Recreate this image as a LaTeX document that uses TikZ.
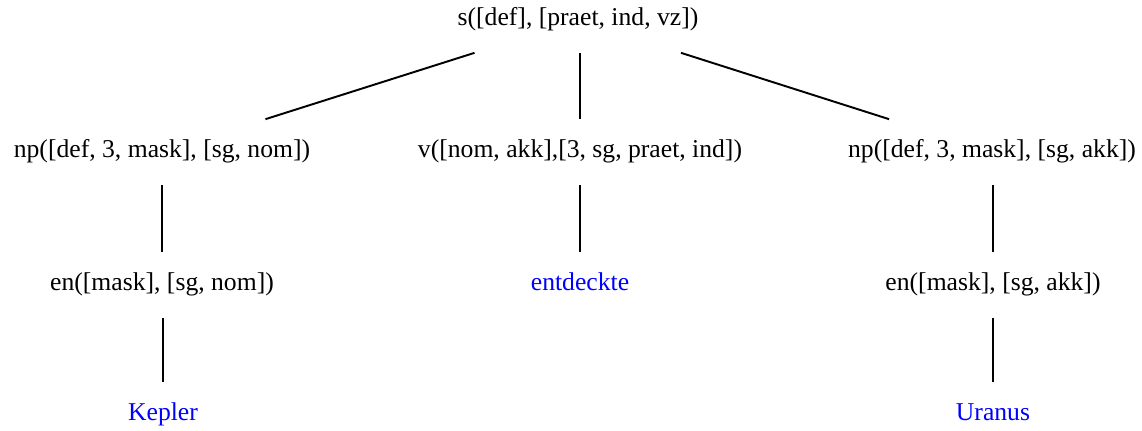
\documentclass[tikz,border=0pt]{standalone}
\usepackage{fontspec}
\setmainfont{Liberation Serif}
\begin{document}
\begin{tikzpicture}[x=0.02cm, y=-0.02cm,
    cat/.style={minimum height=1.3cm, inner xsep=0pt, text height=0.8em, text depth=0.12em, font=\fontsize{14.6}{17}\selectfont},
    word/.style={cat, text=blue},
    edge/.style={line width=1.1pt}]
    % Frame
    \useasboundingbox (0,0) rectangle (1142,430);

    % Root
    \node[cat] (s) at (578,20) {s([def], [praet, ind, vz])};

    % Daughters
    \node[cat] (np1) at (162,152) {np([def, 3, mask], [sg, nom])};
    \node[cat] (v) at (580,152) {v([nom, akk],[3, sg, praet, ind])};
    \node[cat] (np2) at (992,152) {np([def, 3, mask], [sg, akk])};

    % Preterminals
    \node[cat] (en1) at (162,285) {en([mask], [sg, nom])};
    \node[word] (entdeckte) at (580,285) {entdeckte};
    \node[cat] (en2) at (993,285) {en([mask], [sg, akk])};

    % Words
    \node[word] (kepler) at (163,415) {Kepler};
    \node[word] (uranus) at (993,415) {Uranus};

    % Edges
    \draw[edge] (s) -- (np1);
    \draw[edge] (s.south -| v) -- (v);
    \draw[edge] (s) -- (np2);
    \draw[edge] (np1.south -| en1) -- (en1);
    \draw[edge] (v) -- (entdeckte);
    \draw[edge] (np2.south -| en2) -- (en2);
    \draw[edge] (en1.south -| kepler) -- (kepler);
    \draw[edge] (en2) -- (uranus);
\end{tikzpicture}
\end{document}
